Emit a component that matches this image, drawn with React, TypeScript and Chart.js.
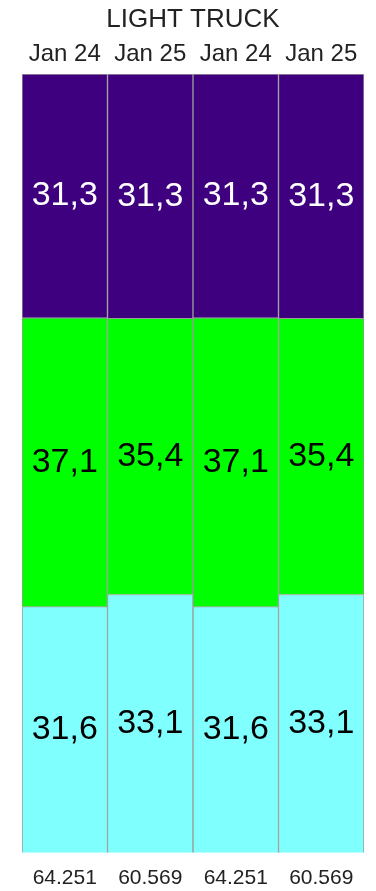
import React, { useEffect, useRef } from "react";
import { Chart, registerables } from "chart.js";

Chart.register(...registerables);

const categories = ["Jan 24", "Jan 25", "Jan 24", "Jan 25"];
const totals = ["64.251", "60.569", "64.251", "60.569"];
const bottomSeries = [31.6, 33.1, 31.6, 33.1];
const middleSeries = [37.1, 35.4, 37.1, 35.4];
const topSeries = [31.3, 31.3, 31.3, 31.3];
const title = "LIGHT TRUCK";

const FONT = "'Liberation Sans', Arial, sans-serif";

const sums = categories.map((_, i) => bottomSeries[i] + middleSeries[i] + topSeries[i]);
const pct = (arr: number[]) => arr.map((v, i) => (v / sums[i]) * 100);

const labelPlugin = {
  id: "segLabels",
  afterDatasetsDraw(chart: any) {
    const ctx = chart.ctx;
    ctx.save();
    ctx.font = `34px ${FONT}`;
    ctx.textAlign = "center";
    ctx.textBaseline = "middle";
    chart.data.datasets.forEach((ds: any, di: number) => {
      const meta = chart.getDatasetMeta(di);
      meta.data.forEach((bar: any, i: number) => {
        const raw = ds.rawValues[i];
        ctx.fillStyle = ds.labelColor;
        const y = (bar.y + bar.base) / 2;
        ctx.fillText(raw.toFixed(1).replace(".", ","), bar.x, y);
      });
    });
    ctx.restore();
  },
};

export default function App() {
  const ref = useRef<HTMLCanvasElement>(null);
  useEffect(() => {
    if (!ref.current) return;
    const chart = new Chart(ref.current, {
      type: "bar",
      data: {
        labels: categories,
        datasets: [
          {
            data: pct(bottomSeries),
            rawValues: bottomSeries,
            labelColor: "#000000",
            backgroundColor: "#80FFFF",
            borderColor: "#9a9a9a",
            borderWidth: 1,
          } as any,
          {
            data: pct(middleSeries),
            rawValues: middleSeries,
            labelColor: "#000000",
            backgroundColor: "#00FF00",
            borderColor: "#9a9a9a",
            borderWidth: 1,
          } as any,
          {
            data: pct(topSeries),
            rawValues: topSeries,
            labelColor: "#ffffff",
            backgroundColor: "#3F007F",
            borderColor: "#9a9a9a",
            borderWidth: 1,
          } as any,
        ],
      },
      options: {
        animation: false,
        responsive: false,
        maintainAspectRatio: false,
        datasets: { bar: { categoryPercentage: 1, barPercentage: 1 } },
        layout: { padding: { left: 22, right: 12, top: 3, bottom: 0 } },
        plugins: {
          legend: { display: false },
          tooltip: { enabled: false },
          title: {
            display: true,
            text: title,
            color: "#222222",
            font: { family: FONT, size: 26, weight: "normal" },
            padding: { top: 1, bottom: 0 },
          },
        },
        scales: {
          x: {
            stacked: true,
            position: "top",
            grid: { display: false, drawTicks: false },
            border: { display: false },
            ticks: {
              color: "#222222",
              font: { family: FONT, size: 24 },
              padding: 5,
              maxRotation: 0,
            },
          },
          x2: {
            type: "category",
            labels: totals,
            position: "bottom",
            grid: { display: false, drawTicks: false },
            border: { display: false },
            ticks: {
              color: "#222222",
              font: { family: FONT, size: 21 },
              padding: 13,
              maxRotation: 0,
            },
          },
          y: {
            stacked: true,
            display: false,
            min: 0,
            max: 100,
          },
        },
      } as any,
      plugins: [labelPlugin],
    });
    return () => chart.destroy();
  }, []);
  return (
    <div style={{ position: "fixed", left: 0, top: 0, width: 376, height: 891, overflow: "hidden", background: "#fff" }}>
      <canvas ref={ref} width={376} height={904} style={{ display: "block" }} />
    </div>
  );
}
